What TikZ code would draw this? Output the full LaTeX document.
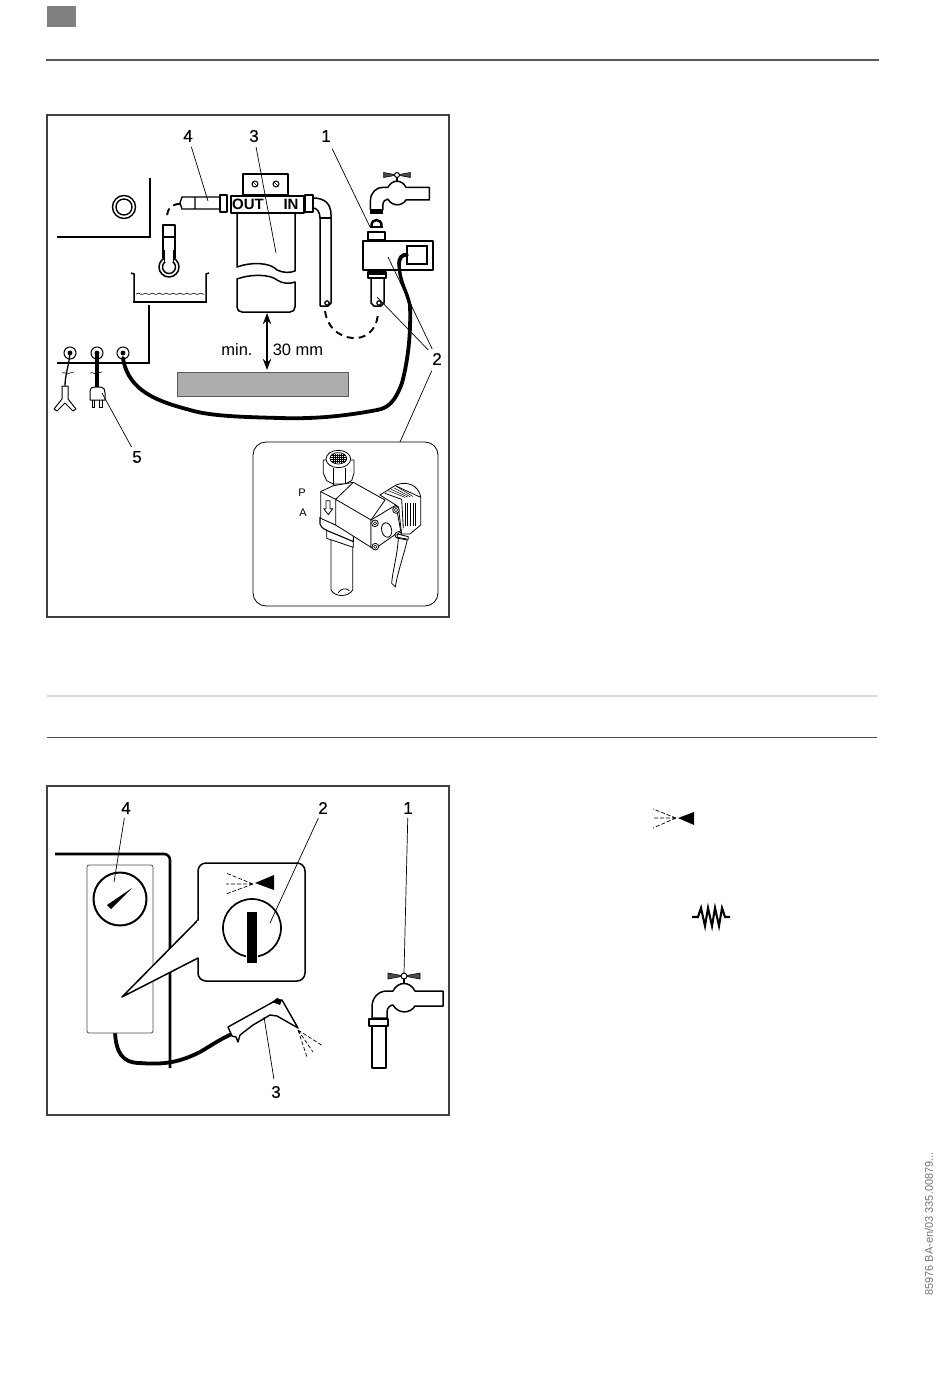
\documentclass[tikz,border=0pt]{standalone}
\usepackage{fontspec}
\setmainfont{Liberation Sans}
\newfontfamily\numfont[FakeBold=.5]{Liberation Sans}
\usetikzlibrary{arrows.meta}

\tikzset{
  panel/.style={draw=black!75,line width=1.1pt},
  numlabel/.style={font=\numfont\fontsize{17}{17}\selectfont,inner sep=0pt,outer sep=4pt},
  leader/.style={line width=.7pt},
  wall/.style={line width=2pt},
  part/.style={draw,fill=white,line width=1.5pt,line join=round},
  cable/.style={line width=3.8pt,line cap=round},
  hosedash/.style={line width=1.9pt,dash pattern=on 7pt off 5pt},
  fine/.style={line width=.6pt,line join=round},
  spraydash/.style={line width=.7pt,dash pattern=on 4pt off 2pt},
  faucet/.pic={
    \draw[part] (39,15) -- (11,15) .. controls (6,5) and (-6,5) .. (-11,15) -- (-17,15)
      .. controls (-26,15) and (-32,22) .. (-32,31) -- (-32,42) -- (-17,42) -- (-17,36)
      .. controls (-17,32) and (-14,29) .. (-11,29) .. controls (-6,38) and (6,38) .. (11,30)
      -- (39,30) -- cycle;
    \draw[line width=1.5pt] (0,0) -- (0,8);
    \draw[fill=black!70,line width=.6pt] (-16,-3) -- (16,3) -- (16,-3) -- (-16,3) -- cycle;
    \draw[fill=white,line width=1pt] (0,0) circle (3);
  },
}

\begin{document}
\begin{tikzpicture}[x=1pt,y=-1pt]
\useasboundingbox (0,0) rectangle (950,1388);

% page furniture
\fill[black!50] (47,6) rectangle (76,27);
\draw[black!65,line width=1.4pt] (46,60) -- (879,60);
\draw[black!15,line width=1.2pt] (47,696) -- (877,696);
\draw[black!70,line width=1pt] (47,737) -- (877,737);

% ---- first panel
\draw[panel] (47,115) rectangle (449,617);

\draw[wall] (57,237) -- (150,237) -- (150,178);
\draw[line width=1.4pt] (124,207) circle (11.5) (124,207) circle (8);

% drain
\draw[hosedash] (180,204) .. controls (172,204) and (167,208) .. (167,218);
\draw[part] (163,225) -- (175,225) -- (175,258) -- (163,258) -- cycle;
\draw[line width=1.3pt] (163,237) -- (175,237);
\draw[part] (169,267) circle (10);
\draw[line width=1.4pt] (169,267) circle (6.5);
\draw[fill=white,draw=none] (164.5,250) rectangle (173.5,262);
\draw[line width=1.4pt] (164.5,250) -- (164.5,262) (173.5,250) -- (173.5,262);

% basin
\draw[line width=1.5pt] (131,273) -- (134,274) -- (134,302) (209,273) -- (206,274) -- (206,302);
\draw[line width=2pt] (133,302) -- (207,302);
\draw[fine] plot[domain=136:204,samples=90] (\x,{293+1.3*abs(sin(\x*26))});
\draw[wall] (149,305) -- (149,363) -- (57,363);

% filter
\draw[part] (243,174) rectangle (288,195);
\draw[line width=1pt] (255,184) circle (3) (276,184) circle (3);
\draw[fine] (253,182) -- (257,186) (274,182) -- (278,186);
\draw[part] (237,212) -- (237,267) .. controls (250,262) and (270,262) .. (277,270)
  .. controls (283,273) and (290,273) .. (295,271) -- (295,212);
\draw[part] (237,279) .. controls (250,274) and (270,274) .. (277,280)
  .. controls (283,284) and (290,284) .. (295,282) -- (295,307)
  .. controls (295,310) and (293,312) .. (290,312) -- (242,312)
  .. controls (239,312) and (237,310) .. (237,307) -- cycle;
\node[part,minimum width=73pt,minimum height=17pt,inner sep=0pt,anchor=north west,
  line width=1.8pt] (filterhead) at (230,195) {};
\node[font=\bfseries\fontsize{15}{15}\selectfont,inner sep=0pt] (outtext) at (248,204) {OUT};
\node[font=\bfseries\fontsize{15}{15}\selectfont,inner sep=0pt] (intext) at (291,204) {IN};
\draw[part] (220,195) rectangle (227,212) (305,195) rectangle (313,212);

% short pipe
\draw[line width=1.4pt] (220,197) -- (182,197) -- (180,203) -- (182,209) -- (220,209) (195,197) -- (195,209);

% pipe to the valve
\draw[part] (313,198) .. controls (325,198) and (331,204) .. (331,215) -- (331,303)
  -- (328,306) -- (320,306) -- (320,218) .. controls (320,212) and (317,208) .. (313,208) -- cycle;
\draw[line width=1.2pt] (320,218) -- (331,218);
\draw[line width=1.2pt] (327,303) circle (2.2);
\draw[hosedash] (325,311) .. controls (328,332) and (345,339) .. (357,338)
  .. controls (368,337) and (378,328) .. (378,311);

% tap and valve
\pic[scale=.83] at (397,175) {faucet};
\fill (370,209) rectangle (383,214);
\draw[line width=2.5pt] (371.5,226) .. controls (371,218) and (382,218) .. (381.5,226);
\draw[line width=2.5pt] (370,227) -- (383,227);
\draw[part] (368,232) rectangle (385,240);
\draw[cable] (410,305) .. controls (411,335) and (408,360) .. (402,383)
  .. controls (395,402) and (388,408) .. (377,410) .. controls (340,417) and (310,419) .. (280,418)
  .. controls (240,417) and (210,416) .. (190,410) .. controls (160,402) and (128,392) .. (123,358);
\draw[part] (371,278) -- (371,303) -- (374,306) -- (381,306) -- (384,303) -- (384,278);
\draw[line width=1.2pt] (379,303) circle (2.2);
\draw[part,line width=2pt] (363,241) rectangle (433,270);
\draw[part] (368,272) rectangle (386,278);
\fill (368,272) rectangle (386,275);
\draw[line width=2pt] (407,246) rectangle (427,264);
\draw[cable] (407,255) .. controls (402,254) and (399,258) .. (399,264);
\draw[line width=3.4pt] (399,264) .. controls (400,285) and (407,290) .. (410,306);

% sockets and plugs
\foreach \sx/\sname in {70/sockA,97/sockB,123/sockC} {
  \node[circle,draw,line width=1pt,minimum size=12pt,inner sep=0pt] (\sname) at (\sx,353) {};
  \fill (\sx,353) circle (2.4);
}
\draw[line width=1.3pt] (sockA.center) .. controls (69,365) and (65,375) .. (65,386);
\draw[line width=3.6pt] (sockB.center) -- (97,387);
\draw[fine] (62,373) .. controls (65,371) and (67,376) .. (70,373) .. controls (71,372) and (73,373) .. (74,372);
\draw[fine] (90,373) .. controls (93,371) and (95,376) .. (98,373) .. controls (99,372) and (101,373) .. (102,372);
\draw[line width=1pt,line join=round] (62,386) -- (62,399) -- (54,409) -- (57,411) -- (65,403) -- (73,411) -- (76,409) -- (68,399) -- (68,386) -- cycle;
\draw[part,line width=1pt] (90,400) -- (90,391) .. controls (90,388) and (92,387) .. (94,387)
  -- (101,387) .. controls (104,387) and (105,390) .. (105,393) -- (105,400) -- cycle;
\draw[line width=1pt] (92,400) -- (92,407) -- (94,407) -- (94,400) (99,400) -- (99,407) -- (102,407) -- (102,400);

% clearance
\draw[Stealth-Stealth,line width=1.8pt] (267,313) -- (267,370);
\node[font=\fontsize{16.5}{16.5}\selectfont,inner sep=0pt] (minlabel) at (237,350) {min.};
\node[font=\fontsize{16.5}{16.5}\selectfont,inner sep=0pt] (distlabel) at (298,350) {30 mm};
\draw[draw=black!65,fill=black!32,line width=1pt] (177,372) rectangle (348,396);

% valve detail
\draw[fill=white,line width=.8pt,rounded corners=13pt] (253,442) rectangle (438,606);
\node[font=\fontsize{11}{11}\selectfont,inner sep=0pt] (portP) at (302,493) {P};
\node[font=\fontsize{11}{11}\selectfont,inner sep=0pt] (portA) at (303,513) {A};
\begin{scope}[shift={(270,440)},x=.3333pt,y=-.3333pt,line width=.8pt,line join=round]
\draw[fill=white] (183,290) -- (183,450) .. controls (195,472) and (235,472) .. (248,450) -- (248,290) -- cycle;
\draw (205,458) .. controls (212,445) and (230,443) .. (238,452);
\draw[fill=white] (170,270) -- (170,295) -- (250,322) -- (250,290) -- cycle;
\draw[fill=white,line width=1.1pt] (150,232) -- (150,252) .. controls (152,268) and (175,272) .. (250,305) -- (250,280) -- cycle;
% nut
\draw[fill=white] (190,120) -- (190,152) -- (225,152) -- (225,120) -- cycle;
\draw[fill=white] (160,60) -- (160,100) -- (170,122) -- (190,132) -- (225,132) -- (245,122) -- (252,100) -- (252,60) -- cycle;
\draw (190,85) -- (190,132) (225,85) -- (225,132);
\draw[fill=white] (205,57) ellipse (37 and 26);
\draw[fill=white] (205,55) ellipse (25 and 17);
\foreach \gx in {190,196,202,208,214,220} \draw[line width=.4pt] (\gx,42) -- (\gx,68);
\foreach \gy in {46,52,58,64} \draw[line width=.4pt] (182,\gy) -- (228,\gy);
% housing
\draw[fill=white] (152,155) -- (190,137) -- (250,127) -- (345,180) -- (303,240) -- (303,322) -- (197,255) -- (152,235) -- cycle;
\draw (152,155) -- (197,178) -- (250,127) (197,178) -- (197,255) (197,178) -- (303,240);
\draw (168,182) -- (180,182) -- (180,206) -- (188,206) -- (175,224) -- (161,206) -- (168,206) -- cycle;
% connector
\draw[fill=white] (330,165) -- (378,135) .. controls (410,122) and (445,135) .. (452,170) -- (452,255)
  -- (420,282) -- (395,282) -- (385,200) -- cycle;
\draw (378,138) -- (452,172) (345,160) -- (395,178) -- (400,265);
\foreach \lo in {0,8,16,24} \draw[line width=.5pt] (355+\lo,152-\lo*.55) -- (405+\lo,172-\lo*.1);
\foreach \gx in {405,413,421,429,437} \draw[line width=.5pt] (\gx,190) -- (\gx,258);
% coil end
\draw[fill=white] (303,240) -- (378,195) -- (392,272) -- (312,328) -- (303,322) -- cycle;
\draw[rotate around={12:(350,270)}] (350,270) ellipse (15 and 22);
\foreach \bx/\by in {315/250,378/210,316/320,385/285} {
  \draw[fill=white] (\bx,\by) circle (10);
  \draw[line width=.5pt] (\bx,\by) circle (5);
}
% cable
\draw[fill=white] (385,295) .. controls (382,350) and (368,390) .. (365,430) -- (376,441)
  .. controls (382,400) and (400,350) .. (412,300) -- cycle;
\draw[fill=white] (382,282) -- (415,290) -- (415,298) -- (382,292) -- cycle;
\end{scope}

% labels of the first panel
\node[numlabel] (numA) at (326,136) {1};
\node[numlabel] (numB) at (437,359) {2};
\node[numlabel] (numC) at (254,136) {3};
\node[numlabel] (numD) at (188,136) {4};
\node[numlabel] (numE) at (137,457) {5};
\coordinate (tipA) at (370,227);
\coordinate (tipB) at (388,257);
\coordinate (tipBb) at (377,297);
\coordinate (tipBc) at (400,442);
\coordinate (tipC) at (276,253);
\coordinate (tipD) at (208,201);
\coordinate (tipE) at (102,393);
\draw[leader,shorten <=3pt] (numA) -- (tipA);
\draw[white,line width=3pt,shorten <=6pt,shorten >=78pt] (numB) -- (tipB);
\draw[leader] (numB) -- (tipB) (numB) -- (tipBb);
\draw[leader,shorten <=2pt] (numB) -- (tipBc);
\draw[leader,shorten <=1pt] (numC) -- (tipC);
\draw[leader,shorten <=1pt] (numD) -- (tipD);
\draw[leader] (numE) -- (tipE);

% ---- second panel
\draw[panel] (47,786) rectangle (449,1115);

\draw[line width=2.6pt,rounded corners=6pt] (55,854) -- (170,854) -- (170,1068);
\draw[cable] (115,1032) .. controls (116,1052) and (122,1063) .. (140,1063)
  .. controls (165,1065) and (180,1062) .. (200,1052) .. controls (212,1045) and (222,1038) .. (232,1034);
\draw[fill=white,draw=black!70,line width=.8pt,rounded corners=2pt] (87,865) rectangle (153,1033);
\draw[line width=2pt] (120,899) circle (26.5);
\fill (107,905) -- (111,909) -- (132,888) -- cycle;

% callout
\draw[part,line width=1.5pt,rounded corners=8pt] (198,920) [sharp corners] -- (122,997) -- (198,958)
  [rounded corners=8pt] -- (198,981) -- (305,981) -- (305,863) -- (198,863) [sharp corners] -- (198,920) -- cycle;
\draw[white,line width=2pt] (198,921) -- (198,957);
\fill (255,883) -- (274,875) -- (274,890) -- cycle;
\draw[spraydash] (253,884) -- (226,873) (253,884) -- (226,884) (253,884) -- (226,894);
\draw[line width=1.7pt] (252,928) circle (29);
\fill[draw=white,line width=1pt] (246,911) rectangle (257,963);

% spray gun
\draw[part,line width=1.4pt] (228,1027) -- (273,1002) -- (282,1000) -- (298,1028) -- (277,1016)
  -- (270,1015) -- (253,1025) -- (240,1035) -- (238,1042) -- (236,1037) -- (232,1036) -- cycle;
\fill (272,1002) -- (277,998) -- (282,1000) -- (280,1005) -- cycle;
\draw[spraydash] (298,1030) -- (323,1046) (298,1030) -- (313,1052) (298,1030) -- (307,1057);

% tap
\pic at (404,976) {faucet};
\draw[part] (372,1026) rectangle (386,1068);
\draw[part,line width=2pt] (369,1019) rectangle (388,1026);

\node[numlabel] (numF) at (408,808) {1};
\node[numlabel] (numG) at (323,808) {2};
\node[numlabel] (numH) at (276,1092) {3};
\node[numlabel] (numI) at (126,808) {4};
\coordinate (tipF) at (404,973);
\coordinate (tipG) at (270,923);
\coordinate (tipH) at (264,1017);
\coordinate (tipI) at (114,882);
\draw[leader] (numF) -- (tipF);
\draw[leader] (numG) -- (tipG);
\draw[leader,shorten <=3pt] (numH) -- (tipH);
\draw[leader] (numI) -- (tipI);

% symbols in the margin
\fill (678,818) -- (694,812) -- (694,825) -- cycle;
\draw[spraydash] (676,818) -- (653,809) (676,818) -- (653,818) (676,818) -- (653,828);
\draw[line width=2.1pt,line join=miter] (692,917) -- (698,917) -- (701,908) -- (705,926) -- (708,908)
  -- (712,926) -- (715,908) -- (719,926) -- (722,908) -- (725,917) -- (730,917);

\node[rotate=90,text=black!55,font=\fontsize{11}{11}\selectfont,inner sep=0pt] (docref) at (929,1224) {85976 BA-en/03 335.00879...};
\end{tikzpicture}
\end{document}
